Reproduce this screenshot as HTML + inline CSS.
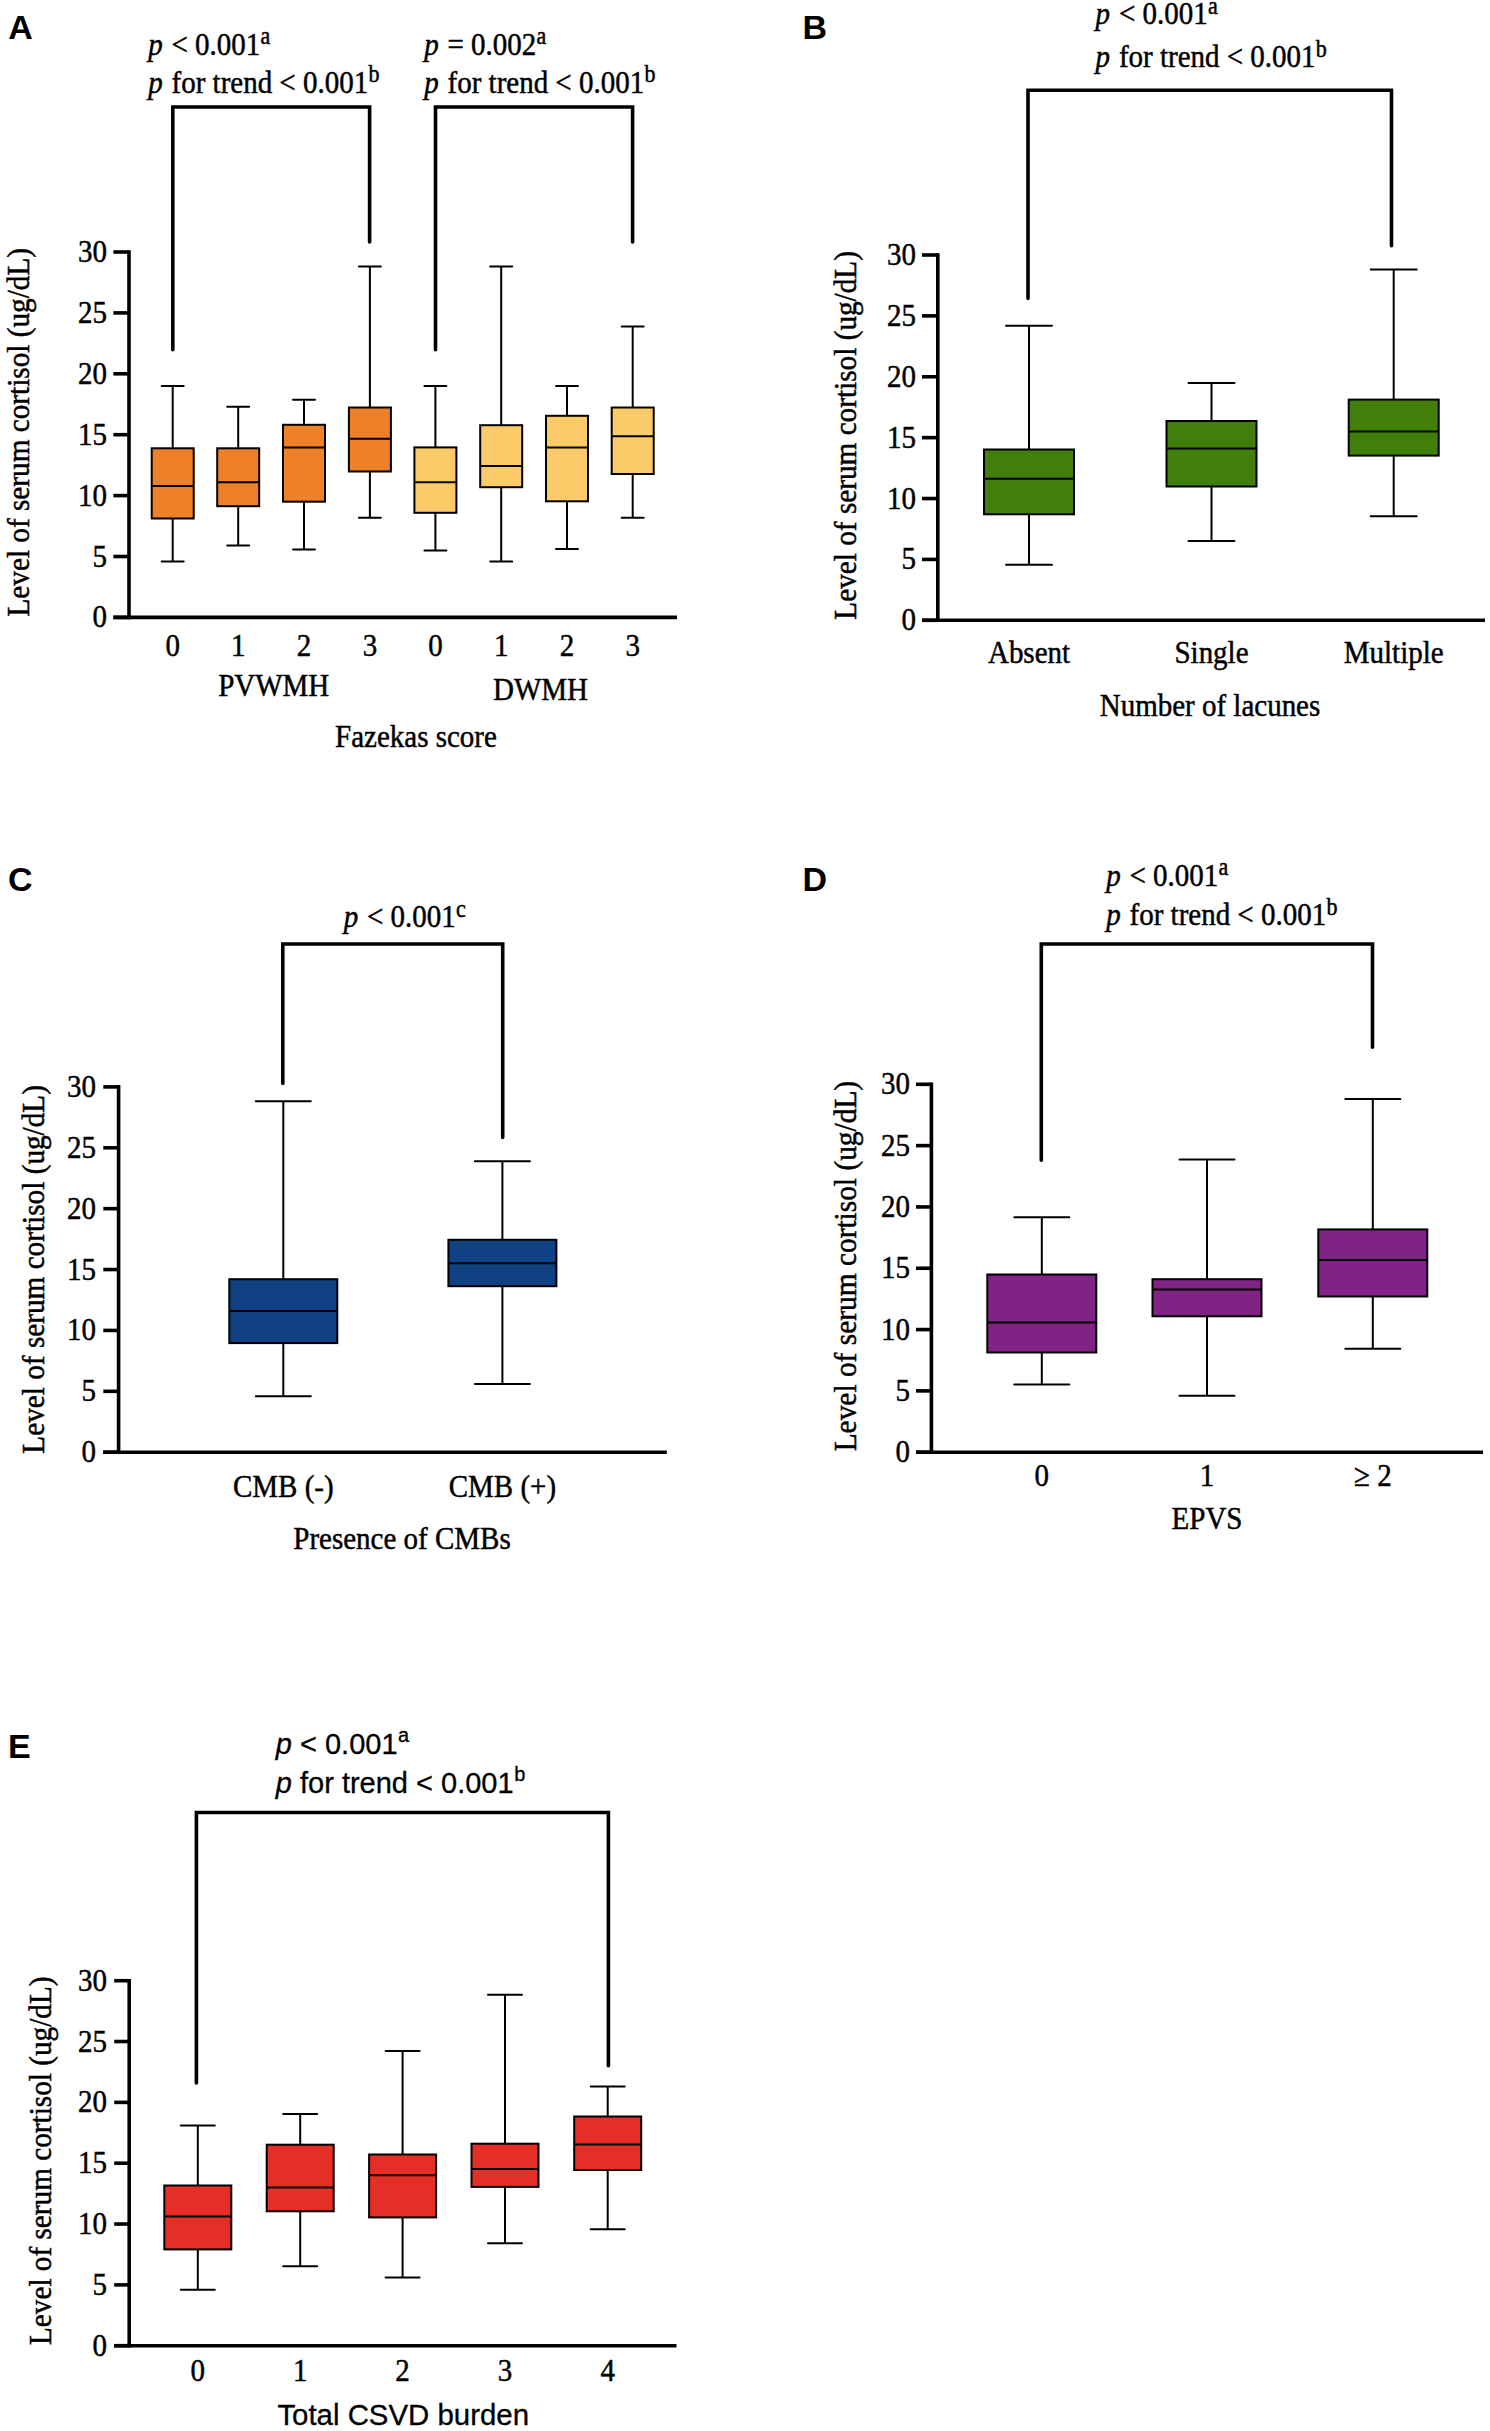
<!DOCTYPE html>
<html><head><meta charset="utf-8"><style>
html,body{margin:0;padding:0;background:#fff;width:1490px;height:2431px;overflow:hidden;}
svg{display:block;}
</style></head><body>
<svg width="1490" height="2431" viewBox="0 0 1490 2431">
<rect width="1490" height="2431" fill="#fff"/>
<line x1="113.4" y1="617.40" x2="129" y2="617.40" stroke="#000" stroke-width="3.6"/>
<text transform="translate(107,627.4) scale(1,1.1)" text-anchor="end" font-size="29" font-family='"Liberation Serif", serif' stroke="#000" stroke-width="0.45" >0</text>
<line x1="113.4" y1="556.50" x2="129" y2="556.50" stroke="#000" stroke-width="3.6"/>
<text transform="translate(107,566.5) scale(1,1.1)" text-anchor="end" font-size="29" font-family='"Liberation Serif", serif' stroke="#000" stroke-width="0.45" >5</text>
<line x1="113.4" y1="495.60" x2="129" y2="495.60" stroke="#000" stroke-width="3.6"/>
<text transform="translate(107,505.59999999999997) scale(1,1.1)" text-anchor="end" font-size="29" font-family='"Liberation Serif", serif' stroke="#000" stroke-width="0.45" >10</text>
<line x1="113.4" y1="434.70" x2="129" y2="434.70" stroke="#000" stroke-width="3.6"/>
<text transform="translate(107,444.7) scale(1,1.1)" text-anchor="end" font-size="29" font-family='"Liberation Serif", serif' stroke="#000" stroke-width="0.45" >15</text>
<line x1="113.4" y1="373.80" x2="129" y2="373.80" stroke="#000" stroke-width="3.6"/>
<text transform="translate(107,383.79999999999995) scale(1,1.1)" text-anchor="end" font-size="29" font-family='"Liberation Serif", serif' stroke="#000" stroke-width="0.45" >20</text>
<line x1="113.4" y1="312.90" x2="129" y2="312.90" stroke="#000" stroke-width="3.6"/>
<text transform="translate(107,322.9) scale(1,1.1)" text-anchor="end" font-size="29" font-family='"Liberation Serif", serif' stroke="#000" stroke-width="0.45" >25</text>
<line x1="113.4" y1="252.00" x2="129" y2="252.00" stroke="#000" stroke-width="3.6"/>
<text transform="translate(107,262.0) scale(1,1.1)" text-anchor="end" font-size="29" font-family='"Liberation Serif", serif' stroke="#000" stroke-width="0.45" >30</text>
<line x1="129" y1="250.20" x2="129" y2="619.20" stroke="#000" stroke-width="3.6"/>
<line x1="113.4" y1="617.40" x2="677" y2="617.40" stroke="#000" stroke-width="3.6"/>
<text transform="translate(28.5,432.25) rotate(-90) scale(1,1.1)" text-anchor="middle" font-size="29.25" font-family='"Liberation Serif", serif' stroke="#000" stroke-width="0.45">Level of serum cortisol (ug/dL)</text>
<line x1="172.7" y1="386" x2="172.7" y2="448.3" stroke="#000" stroke-width="2.0"/>
<line x1="172.7" y1="518.5" x2="172.7" y2="561.5" stroke="#000" stroke-width="2.0"/>
<line x1="161.7" y1="386" x2="183.7" y2="386" stroke="#000" stroke-width="2.0" stroke-linecap="round"/>
<line x1="161.7" y1="561.5" x2="183.7" y2="561.5" stroke="#000" stroke-width="2.0" stroke-linecap="round"/>
<rect x="151.7" y="448.3" width="42" height="70.19999999999999" fill="#EE8128" stroke="#000" stroke-width="2.0"/>
<line x1="151.7" y1="486" x2="193.7" y2="486" stroke="#000" stroke-width="2.0"/>
<line x1="238.2" y1="406.7" x2="238.2" y2="448.3" stroke="#000" stroke-width="2.0"/>
<line x1="238.2" y1="506.2" x2="238.2" y2="545.6" stroke="#000" stroke-width="2.0"/>
<line x1="227.2" y1="406.7" x2="249.2" y2="406.7" stroke="#000" stroke-width="2.0" stroke-linecap="round"/>
<line x1="227.2" y1="545.6" x2="249.2" y2="545.6" stroke="#000" stroke-width="2.0" stroke-linecap="round"/>
<rect x="217.2" y="448.3" width="42" height="57.89999999999998" fill="#EE8128" stroke="#000" stroke-width="2.0"/>
<line x1="217.2" y1="482.2" x2="259.2" y2="482.2" stroke="#000" stroke-width="2.0"/>
<line x1="304.0" y1="399.7" x2="304.0" y2="424.8" stroke="#000" stroke-width="2.0"/>
<line x1="304.0" y1="501.7" x2="304.0" y2="549.4" stroke="#000" stroke-width="2.0"/>
<line x1="293.0" y1="399.7" x2="315.0" y2="399.7" stroke="#000" stroke-width="2.0" stroke-linecap="round"/>
<line x1="293.0" y1="549.4" x2="315.0" y2="549.4" stroke="#000" stroke-width="2.0" stroke-linecap="round"/>
<rect x="283.0" y="424.8" width="42" height="76.89999999999998" fill="#EE8128" stroke="#000" stroke-width="2.0"/>
<line x1="283.0" y1="447.4" x2="325.0" y2="447.4" stroke="#000" stroke-width="2.0"/>
<line x1="369.9" y1="266.6" x2="369.9" y2="407.5" stroke="#000" stroke-width="2.0"/>
<line x1="369.9" y1="471.5" x2="369.9" y2="517.8" stroke="#000" stroke-width="2.0"/>
<line x1="358.9" y1="266.6" x2="380.9" y2="266.6" stroke="#000" stroke-width="2.0" stroke-linecap="round"/>
<line x1="358.9" y1="517.8" x2="380.9" y2="517.8" stroke="#000" stroke-width="2.0" stroke-linecap="round"/>
<rect x="348.9" y="407.5" width="42" height="64.0" fill="#EE8128" stroke="#000" stroke-width="2.0"/>
<line x1="348.9" y1="438.7" x2="390.9" y2="438.7" stroke="#000" stroke-width="2.0"/>
<path d="M172.8 349.7 L172.8 107 L369.6 107 L369.6 242" fill="none" stroke="#000" stroke-width="3.6" stroke-linecap="round" stroke-linejoin="miter"/>
<path d="M435.5 349.7 L435.5 107 L632.6 107 L632.6 242" fill="none" stroke="#000" stroke-width="3.6" stroke-linecap="round" stroke-linejoin="miter"/>
<text x="8.2" y="38.6" font-size="34" font-weight="bold" font-family='"Liberation Sans", sans-serif'>A</text>
<text transform="translate(148.2,54.6) scale(1,1.1)" font-size="29" font-family='"Liberation Serif", serif' stroke="#000" stroke-width="0.45"><tspan font-style="italic">p</tspan><tspan dx="1.5999999999999999"> &lt; 0.001</tspan><tspan font-size="22" dx="0.2" dy="-9.55">a</tspan></text>
<text transform="translate(148.2,92.9) scale(1,1.1)" font-size="29" font-family='"Liberation Serif", serif' stroke="#000" stroke-width="0.45"><tspan font-style="italic">p</tspan><tspan dx="1.5999999999999999"> for trend &lt; 0.001</tspan><tspan font-size="22" dx="0.2" dy="-9.55">b</tspan></text>
<text transform="translate(424.2,54.6) scale(1,1.1)" font-size="29" font-family='"Liberation Serif", serif' stroke="#000" stroke-width="0.45"><tspan font-style="italic">p</tspan><tspan dx="1.5999999999999999"> = 0.002</tspan><tspan font-size="22" dx="0.2" dy="-9.55">a</tspan></text>
<text transform="translate(424.2,92.9) scale(1,1.1)" font-size="29" font-family='"Liberation Serif", serif' stroke="#000" stroke-width="0.45"><tspan font-style="italic">p</tspan><tspan dx="1.5999999999999999"> for trend &lt; 0.001</tspan><tspan font-size="22" dx="0.2" dy="-9.55">b</tspan></text>
<text transform="translate(172.7,656) scale(1,1.1)" text-anchor="middle" font-size="29" font-family='"Liberation Serif", serif' stroke="#000" stroke-width="0.45">0</text>
<text transform="translate(238.2,656) scale(1,1.1)" text-anchor="middle" font-size="29" font-family='"Liberation Serif", serif' stroke="#000" stroke-width="0.45">1</text>
<text transform="translate(304,656) scale(1,1.1)" text-anchor="middle" font-size="29" font-family='"Liberation Serif", serif' stroke="#000" stroke-width="0.45">2</text>
<text transform="translate(369.9,656) scale(1,1.1)" text-anchor="middle" font-size="29" font-family='"Liberation Serif", serif' stroke="#000" stroke-width="0.45">3</text>
<text transform="translate(435.4,656) scale(1,1.1)" text-anchor="middle" font-size="29" font-family='"Liberation Serif", serif' stroke="#000" stroke-width="0.45">0</text>
<text transform="translate(501.2,656) scale(1,1.1)" text-anchor="middle" font-size="29" font-family='"Liberation Serif", serif' stroke="#000" stroke-width="0.45">1</text>
<text transform="translate(567,656) scale(1,1.1)" text-anchor="middle" font-size="29" font-family='"Liberation Serif", serif' stroke="#000" stroke-width="0.45">2</text>
<text transform="translate(632.7,656) scale(1,1.1)" text-anchor="middle" font-size="29" font-family='"Liberation Serif", serif' stroke="#000" stroke-width="0.45">3</text>
<text transform="translate(273.7,696) scale(1,1.1)" text-anchor="middle" font-size="29" font-family='"Liberation Serif", serif' stroke="#000" stroke-width="0.45">PVWMH</text>
<text transform="translate(540.5,699.5) scale(1,1.1)" text-anchor="middle" font-size="29" font-family='"Liberation Serif", serif' stroke="#000" stroke-width="0.45">DWMH</text>
<text transform="translate(416,747.4) scale(1,1.1)" text-anchor="middle" font-size="29" font-family='"Liberation Serif", serif' stroke="#000" stroke-width="0.45">Fazekas score</text>
<line x1="435.4" y1="386" x2="435.4" y2="447.4" stroke="#000" stroke-width="2.0"/>
<line x1="435.4" y1="512.8" x2="435.4" y2="550.4" stroke="#000" stroke-width="2.0"/>
<line x1="424.4" y1="386" x2="446.4" y2="386" stroke="#000" stroke-width="2.0" stroke-linecap="round"/>
<line x1="424.4" y1="550.4" x2="446.4" y2="550.4" stroke="#000" stroke-width="2.0" stroke-linecap="round"/>
<rect x="414.4" y="447.4" width="42" height="65.39999999999998" fill="#FACB68" stroke="#000" stroke-width="2.0"/>
<line x1="414.4" y1="482.2" x2="456.4" y2="482.2" stroke="#000" stroke-width="2.0"/>
<line x1="501.2" y1="266.6" x2="501.2" y2="425.2" stroke="#000" stroke-width="2.0"/>
<line x1="501.2" y1="487.2" x2="501.2" y2="561.5" stroke="#000" stroke-width="2.0"/>
<line x1="490.2" y1="266.6" x2="512.2" y2="266.6" stroke="#000" stroke-width="2.0" stroke-linecap="round"/>
<line x1="490.2" y1="561.5" x2="512.2" y2="561.5" stroke="#000" stroke-width="2.0" stroke-linecap="round"/>
<rect x="480.2" y="425.2" width="42" height="62.0" fill="#FACB68" stroke="#000" stroke-width="2.0"/>
<line x1="480.2" y1="466.1" x2="522.2" y2="466.1" stroke="#000" stroke-width="2.0"/>
<line x1="567.0" y1="386" x2="567.0" y2="415.8" stroke="#000" stroke-width="2.0"/>
<line x1="567.0" y1="501.3" x2="567.0" y2="549" stroke="#000" stroke-width="2.0"/>
<line x1="556.0" y1="386" x2="578.0" y2="386" stroke="#000" stroke-width="2.0" stroke-linecap="round"/>
<line x1="556.0" y1="549" x2="578.0" y2="549" stroke="#000" stroke-width="2.0" stroke-linecap="round"/>
<rect x="546.0" y="415.8" width="42" height="85.5" fill="#FACB68" stroke="#000" stroke-width="2.0"/>
<line x1="546.0" y1="447.4" x2="588.0" y2="447.4" stroke="#000" stroke-width="2.0"/>
<line x1="632.7" y1="326.6" x2="632.7" y2="407.5" stroke="#000" stroke-width="2.0"/>
<line x1="632.7" y1="474" x2="632.7" y2="517.8" stroke="#000" stroke-width="2.0"/>
<line x1="621.7" y1="326.6" x2="643.7" y2="326.6" stroke="#000" stroke-width="2.0" stroke-linecap="round"/>
<line x1="621.7" y1="517.8" x2="643.7" y2="517.8" stroke="#000" stroke-width="2.0" stroke-linecap="round"/>
<rect x="611.7" y="407.5" width="42" height="66.5" fill="#FACB68" stroke="#000" stroke-width="2.0"/>
<line x1="611.7" y1="436.3" x2="653.7" y2="436.3" stroke="#000" stroke-width="2.0"/>
<line x1="922" y1="620.30" x2="937.8" y2="620.30" stroke="#000" stroke-width="3.6"/>
<text transform="translate(916,630.3) scale(1,1.1)" text-anchor="end" font-size="29" font-family='"Liberation Serif", serif' stroke="#000" stroke-width="0.45" >0</text>
<line x1="922" y1="559.42" x2="937.8" y2="559.42" stroke="#000" stroke-width="3.6"/>
<text transform="translate(916,569.4166666666666) scale(1,1.1)" text-anchor="end" font-size="29" font-family='"Liberation Serif", serif' stroke="#000" stroke-width="0.45" >5</text>
<line x1="922" y1="498.53" x2="937.8" y2="498.53" stroke="#000" stroke-width="3.6"/>
<text transform="translate(916,508.5333333333333) scale(1,1.1)" text-anchor="end" font-size="29" font-family='"Liberation Serif", serif' stroke="#000" stroke-width="0.45" >10</text>
<line x1="922" y1="437.65" x2="937.8" y2="437.65" stroke="#000" stroke-width="3.6"/>
<text transform="translate(916,447.65) scale(1,1.1)" text-anchor="end" font-size="29" font-family='"Liberation Serif", serif' stroke="#000" stroke-width="0.45" >15</text>
<line x1="922" y1="376.77" x2="937.8" y2="376.77" stroke="#000" stroke-width="3.6"/>
<text transform="translate(916,386.76666666666665) scale(1,1.1)" text-anchor="end" font-size="29" font-family='"Liberation Serif", serif' stroke="#000" stroke-width="0.45" >20</text>
<line x1="922" y1="315.88" x2="937.8" y2="315.88" stroke="#000" stroke-width="3.6"/>
<text transform="translate(916,325.8833333333333) scale(1,1.1)" text-anchor="end" font-size="29" font-family='"Liberation Serif", serif' stroke="#000" stroke-width="0.45" >25</text>
<line x1="922" y1="255.00" x2="937.8" y2="255.00" stroke="#000" stroke-width="3.6"/>
<text transform="translate(916,265.0) scale(1,1.1)" text-anchor="end" font-size="29" font-family='"Liberation Serif", serif' stroke="#000" stroke-width="0.45" >30</text>
<line x1="937.8" y1="253.20" x2="937.8" y2="622.10" stroke="#000" stroke-width="3.6"/>
<line x1="922" y1="620.30" x2="1485" y2="620.30" stroke="#000" stroke-width="3.6"/>
<text transform="translate(855.8,435.35) rotate(-90) scale(1,1.1)" text-anchor="middle" font-size="29.25" font-family='"Liberation Serif", serif' stroke="#000" stroke-width="0.45">Level of serum cortisol (ug/dL)</text>
<line x1="1029" y1="325.8" x2="1029" y2="449.5" stroke="#000" stroke-width="2.0"/>
<line x1="1029" y1="514.3" x2="1029" y2="564.7" stroke="#000" stroke-width="2.0"/>
<line x1="1006.0" y1="325.8" x2="1052.0" y2="325.8" stroke="#000" stroke-width="2.0" stroke-linecap="round"/>
<line x1="1006.0" y1="564.7" x2="1052.0" y2="564.7" stroke="#000" stroke-width="2.0" stroke-linecap="round"/>
<rect x="984.0" y="449.5" width="90" height="64.79999999999995" fill="#417E0B" stroke="#000" stroke-width="2.0"/>
<line x1="984.0" y1="478.7" x2="1074.0" y2="478.7" stroke="#000" stroke-width="2.0"/>
<line x1="1211.5" y1="382.9" x2="1211.5" y2="421" stroke="#000" stroke-width="2.0"/>
<line x1="1211.5" y1="486.5" x2="1211.5" y2="540.9" stroke="#000" stroke-width="2.0"/>
<line x1="1188.5" y1="382.9" x2="1234.5" y2="382.9" stroke="#000" stroke-width="2.0" stroke-linecap="round"/>
<line x1="1188.5" y1="540.9" x2="1234.5" y2="540.9" stroke="#000" stroke-width="2.0" stroke-linecap="round"/>
<rect x="1166.5" y="421" width="90" height="65.5" fill="#417E0B" stroke="#000" stroke-width="2.0"/>
<line x1="1166.5" y1="448.6" x2="1256.5" y2="448.6" stroke="#000" stroke-width="2.0"/>
<line x1="1393.7" y1="269.6" x2="1393.7" y2="399.6" stroke="#000" stroke-width="2.0"/>
<line x1="1393.7" y1="455.6" x2="1393.7" y2="516.3" stroke="#000" stroke-width="2.0"/>
<line x1="1370.7" y1="269.6" x2="1416.7" y2="269.6" stroke="#000" stroke-width="2.0" stroke-linecap="round"/>
<line x1="1370.7" y1="516.3" x2="1416.7" y2="516.3" stroke="#000" stroke-width="2.0" stroke-linecap="round"/>
<rect x="1348.7" y="399.6" width="90" height="56.0" fill="#417E0B" stroke="#000" stroke-width="2.0"/>
<line x1="1348.7" y1="431.6" x2="1438.7" y2="431.6" stroke="#000" stroke-width="2.0"/>
<path d="M1028 298.5 L1028 90.3 L1391.5 90.3 L1391.5 245.8" fill="none" stroke="#000" stroke-width="3.6" stroke-linecap="round" stroke-linejoin="miter"/>
<text x="802.4" y="38.5" font-size="34" font-weight="bold" font-family='"Liberation Sans", sans-serif'>B</text>
<text transform="translate(1095.6000000000001,24.4) scale(1,1.1)" font-size="29" font-family='"Liberation Serif", serif' stroke="#000" stroke-width="0.45"><tspan font-style="italic">p</tspan><tspan dx="1.5999999999999999"> &lt; 0.001</tspan><tspan font-size="22" dx="0.2" dy="-9.55">a</tspan></text>
<text transform="translate(1095.6000000000001,67.2) scale(1,1.1)" font-size="29" font-family='"Liberation Serif", serif' stroke="#000" stroke-width="0.45"><tspan font-style="italic">p</tspan><tspan dx="1.5999999999999999"> for trend &lt; 0.001</tspan><tspan font-size="22" dx="0.2" dy="-9.55">b</tspan></text>
<text transform="translate(1029,663) scale(1,1.1)" text-anchor="middle" font-size="29" font-family='"Liberation Serif", serif' stroke="#000" stroke-width="0.45">Absent</text>
<text transform="translate(1211.5,663) scale(1,1.1)" text-anchor="middle" font-size="29" font-family='"Liberation Serif", serif' stroke="#000" stroke-width="0.45">Single</text>
<text transform="translate(1393.7,663) scale(1,1.1)" text-anchor="middle" font-size="29" font-family='"Liberation Serif", serif' stroke="#000" stroke-width="0.45">Multiple</text>
<text transform="translate(1210,716.2) scale(1,1.1)" text-anchor="middle" font-size="29" font-family='"Liberation Serif", serif' stroke="#000" stroke-width="0.45">Number of lacunes</text>
<line x1="103.3" y1="1452.20" x2="118.6" y2="1452.20" stroke="#000" stroke-width="3.6"/>
<text transform="translate(96,1462.2) scale(1,1.1)" text-anchor="end" font-size="29" font-family='"Liberation Serif", serif' stroke="#000" stroke-width="0.45" >0</text>
<line x1="103.3" y1="1391.32" x2="118.6" y2="1391.32" stroke="#000" stroke-width="3.6"/>
<text transform="translate(96,1401.3166666666666) scale(1,1.1)" text-anchor="end" font-size="29" font-family='"Liberation Serif", serif' stroke="#000" stroke-width="0.45" >5</text>
<line x1="103.3" y1="1330.43" x2="118.6" y2="1330.43" stroke="#000" stroke-width="3.6"/>
<text transform="translate(96,1340.4333333333334) scale(1,1.1)" text-anchor="end" font-size="29" font-family='"Liberation Serif", serif' stroke="#000" stroke-width="0.45" >10</text>
<line x1="103.3" y1="1269.55" x2="118.6" y2="1269.55" stroke="#000" stroke-width="3.6"/>
<text transform="translate(96,1279.5500000000002) scale(1,1.1)" text-anchor="end" font-size="29" font-family='"Liberation Serif", serif' stroke="#000" stroke-width="0.45" >15</text>
<line x1="103.3" y1="1208.67" x2="118.6" y2="1208.67" stroke="#000" stroke-width="3.6"/>
<text transform="translate(96,1218.6666666666667) scale(1,1.1)" text-anchor="end" font-size="29" font-family='"Liberation Serif", serif' stroke="#000" stroke-width="0.45" >20</text>
<line x1="103.3" y1="1147.78" x2="118.6" y2="1147.78" stroke="#000" stroke-width="3.6"/>
<text transform="translate(96,1157.7833333333333) scale(1,1.1)" text-anchor="end" font-size="29" font-family='"Liberation Serif", serif' stroke="#000" stroke-width="0.45" >25</text>
<line x1="103.3" y1="1086.90" x2="118.6" y2="1086.90" stroke="#000" stroke-width="3.6"/>
<text transform="translate(96,1096.9) scale(1,1.1)" text-anchor="end" font-size="29" font-family='"Liberation Serif", serif' stroke="#000" stroke-width="0.45" >30</text>
<line x1="118.6" y1="1085.10" x2="118.6" y2="1454.00" stroke="#000" stroke-width="3.6"/>
<line x1="103.3" y1="1452.20" x2="666.8" y2="1452.20" stroke="#000" stroke-width="3.6"/>
<text transform="translate(44.2,1269.35) rotate(-90) scale(1,1.1)" text-anchor="middle" font-size="29.25" font-family='"Liberation Serif", serif' stroke="#000" stroke-width="0.45">Level of serum cortisol (ug/dL)</text>
<line x1="283.3" y1="1101.3" x2="283.3" y2="1279.2" stroke="#000" stroke-width="2.0"/>
<line x1="283.3" y1="1343.1" x2="283.3" y2="1396.2" stroke="#000" stroke-width="2.0"/>
<line x1="255.8" y1="1101.3" x2="310.8" y2="1101.3" stroke="#000" stroke-width="2.0" stroke-linecap="round"/>
<line x1="255.8" y1="1396.2" x2="310.8" y2="1396.2" stroke="#000" stroke-width="2.0" stroke-linecap="round"/>
<rect x="229.3" y="1279.2" width="108" height="63.899999999999864" fill="#104182" stroke="#000" stroke-width="2.0"/>
<line x1="229.3" y1="1311.1" x2="337.3" y2="1311.1" stroke="#000" stroke-width="2.0"/>
<line x1="502.4" y1="1161.3" x2="502.4" y2="1239.8" stroke="#000" stroke-width="2.0"/>
<line x1="502.4" y1="1286.2" x2="502.4" y2="1384" stroke="#000" stroke-width="2.0"/>
<line x1="474.9" y1="1161.3" x2="529.9" y2="1161.3" stroke="#000" stroke-width="2.0" stroke-linecap="round"/>
<line x1="474.9" y1="1384" x2="529.9" y2="1384" stroke="#000" stroke-width="2.0" stroke-linecap="round"/>
<rect x="448.4" y="1239.8" width="108" height="46.40000000000009" fill="#104182" stroke="#000" stroke-width="2.0"/>
<line x1="448.4" y1="1263.2" x2="556.4" y2="1263.2" stroke="#000" stroke-width="2.0"/>
<path d="M282.8 1083.5 L282.8 944 L502.7 944 L502.7 1137.5" fill="none" stroke="#000" stroke-width="3.6" stroke-linecap="round" stroke-linejoin="miter"/>
<text x="7.9" y="890.7" font-size="34" font-weight="bold" font-family='"Liberation Sans", sans-serif'>C</text>
<text transform="translate(343.7,927.1) scale(1,1.1)" font-size="29" font-family='"Liberation Serif", serif' stroke="#000" stroke-width="0.45"><tspan font-style="italic">p</tspan><tspan dx="1.5999999999999999"> &lt; 0.001</tspan><tspan font-size="22" dx="0.2" dy="-9.55">c</tspan></text>
<text transform="translate(283.3,1496.7) scale(1,1.1)" text-anchor="middle" font-size="29" font-family='"Liberation Serif", serif' stroke="#000" stroke-width="0.45">CMB (-)</text>
<text transform="translate(502.4,1496.7) scale(1,1.1)" text-anchor="middle" font-size="29" font-family='"Liberation Serif", serif' stroke="#000" stroke-width="0.45">CMB (+)</text>
<text transform="translate(402,1549.3) scale(1,1.1)" text-anchor="middle" font-size="29" font-family='"Liberation Serif", serif' stroke="#000" stroke-width="0.45">Presence of CMBs</text>
<line x1="916" y1="1452.20" x2="931.4" y2="1452.20" stroke="#000" stroke-width="3.6"/>
<text transform="translate(910,1462.2) scale(1,1.1)" text-anchor="end" font-size="29" font-family='"Liberation Serif", serif' stroke="#000" stroke-width="0.45" >0</text>
<line x1="916" y1="1390.88" x2="931.4" y2="1390.88" stroke="#000" stroke-width="3.6"/>
<text transform="translate(910,1400.8833333333334) scale(1,1.1)" text-anchor="end" font-size="29" font-family='"Liberation Serif", serif' stroke="#000" stroke-width="0.45" >5</text>
<line x1="916" y1="1329.57" x2="931.4" y2="1329.57" stroke="#000" stroke-width="3.6"/>
<text transform="translate(910,1339.5666666666666) scale(1,1.1)" text-anchor="end" font-size="29" font-family='"Liberation Serif", serif' stroke="#000" stroke-width="0.45" >10</text>
<line x1="916" y1="1268.25" x2="931.4" y2="1268.25" stroke="#000" stroke-width="3.6"/>
<text transform="translate(910,1278.25) scale(1,1.1)" text-anchor="end" font-size="29" font-family='"Liberation Serif", serif' stroke="#000" stroke-width="0.45" >15</text>
<line x1="916" y1="1206.93" x2="931.4" y2="1206.93" stroke="#000" stroke-width="3.6"/>
<text transform="translate(910,1216.9333333333334) scale(1,1.1)" text-anchor="end" font-size="29" font-family='"Liberation Serif", serif' stroke="#000" stroke-width="0.45" >20</text>
<line x1="916" y1="1145.62" x2="931.4" y2="1145.62" stroke="#000" stroke-width="3.6"/>
<text transform="translate(910,1155.6166666666666) scale(1,1.1)" text-anchor="end" font-size="29" font-family='"Liberation Serif", serif' stroke="#000" stroke-width="0.45" >25</text>
<line x1="916" y1="1084.30" x2="931.4" y2="1084.30" stroke="#000" stroke-width="3.6"/>
<text transform="translate(910,1094.3) scale(1,1.1)" text-anchor="end" font-size="29" font-family='"Liberation Serif", serif' stroke="#000" stroke-width="0.45" >30</text>
<line x1="931.4" y1="1082.50" x2="931.4" y2="1454.00" stroke="#000" stroke-width="3.6"/>
<line x1="916" y1="1452.20" x2="1483" y2="1452.20" stroke="#000" stroke-width="3.6"/>
<text transform="translate(856.4,1266.1) rotate(-90) scale(1,1.1)" text-anchor="middle" font-size="29.4" font-family='"Liberation Serif", serif' stroke="#000" stroke-width="0.45">Level of serum cortisol (ug/dL)</text>
<line x1="1041.8" y1="1217.2" x2="1041.8" y2="1274.5" stroke="#000" stroke-width="2.0"/>
<line x1="1041.8" y1="1352.5" x2="1041.8" y2="1384.4" stroke="#000" stroke-width="2.0"/>
<line x1="1014.3" y1="1217.2" x2="1069.3" y2="1217.2" stroke="#000" stroke-width="2.0" stroke-linecap="round"/>
<line x1="1014.3" y1="1384.4" x2="1069.3" y2="1384.4" stroke="#000" stroke-width="2.0" stroke-linecap="round"/>
<rect x="987.3" y="1274.5" width="109" height="78.0" fill="#812384" stroke="#000" stroke-width="2.0"/>
<line x1="987.3" y1="1322.4" x2="1096.3" y2="1322.4" stroke="#000" stroke-width="2.0"/>
<line x1="1207" y1="1159.4" x2="1207" y2="1279.2" stroke="#000" stroke-width="2.0"/>
<line x1="1207" y1="1316.3" x2="1207" y2="1395.7" stroke="#000" stroke-width="2.0"/>
<line x1="1179.5" y1="1159.4" x2="1234.5" y2="1159.4" stroke="#000" stroke-width="2.0" stroke-linecap="round"/>
<line x1="1179.5" y1="1395.7" x2="1234.5" y2="1395.7" stroke="#000" stroke-width="2.0" stroke-linecap="round"/>
<rect x="1152.5" y="1279.2" width="109" height="37.09999999999991" fill="#812384" stroke="#000" stroke-width="2.0"/>
<line x1="1152.5" y1="1289.6" x2="1261.5" y2="1289.6" stroke="#000" stroke-width="2.0"/>
<line x1="1372.8" y1="1099" x2="1372.8" y2="1229.4" stroke="#000" stroke-width="2.0"/>
<line x1="1372.8" y1="1296.5" x2="1372.8" y2="1348.7" stroke="#000" stroke-width="2.0"/>
<line x1="1345.3" y1="1099" x2="1400.3" y2="1099" stroke="#000" stroke-width="2.0" stroke-linecap="round"/>
<line x1="1345.3" y1="1348.7" x2="1400.3" y2="1348.7" stroke="#000" stroke-width="2.0" stroke-linecap="round"/>
<rect x="1318.3" y="1229.4" width="109" height="67.09999999999991" fill="#812384" stroke="#000" stroke-width="2.0"/>
<line x1="1318.3" y1="1260" x2="1427.3" y2="1260" stroke="#000" stroke-width="2.0"/>
<path d="M1041.3 1160.3 L1041.3 944 L1372.5 944 L1372.5 1047.3" fill="none" stroke="#000" stroke-width="3.6" stroke-linecap="round" stroke-linejoin="miter"/>
<text x="802.4" y="891" font-size="34" font-weight="bold" font-family='"Liberation Sans", sans-serif'>D</text>
<text transform="translate(1106.2,885.8) scale(1,1.1)" font-size="29" font-family='"Liberation Serif", serif' stroke="#000" stroke-width="0.45"><tspan font-style="italic">p</tspan><tspan dx="1.5999999999999999"> &lt; 0.001</tspan><tspan font-size="22" dx="0.2" dy="-9.55">a</tspan></text>
<text transform="translate(1106.2,925.4) scale(1,1.1)" font-size="29" font-family='"Liberation Serif", serif' stroke="#000" stroke-width="0.45"><tspan font-style="italic">p</tspan><tspan dx="1.5999999999999999"> for trend &lt; 0.001</tspan><tspan font-size="22" dx="0.2" dy="-9.55">b</tspan></text>
<text transform="translate(1041.8,1486) scale(1,1.1)" text-anchor="middle" font-size="29" font-family='"Liberation Serif", serif' stroke="#000" stroke-width="0.45">0</text>
<text transform="translate(1207,1486) scale(1,1.1)" text-anchor="middle" font-size="29" font-family='"Liberation Serif", serif' stroke="#000" stroke-width="0.45">1</text>
<text transform="translate(1372.8,1486) scale(1,1.1)" text-anchor="middle" font-size="29" font-family='"Liberation Serif", serif' stroke="#000" stroke-width="0.45">≥ 2</text>
<text transform="translate(1207,1529.3) scale(1,1.1)" text-anchor="middle" font-size="29" font-family='"Liberation Serif", serif' stroke="#000" stroke-width="0.45">EPVS</text>
<line x1="114.2" y1="2345.70" x2="129.2" y2="2345.70" stroke="#000" stroke-width="3.6"/>
<text transform="translate(107,2355.7) scale(1,1.1)" text-anchor="end" font-size="29" font-family='"Liberation Serif", serif' stroke="#000" stroke-width="0.45" >0</text>
<line x1="114.2" y1="2284.87" x2="129.2" y2="2284.87" stroke="#000" stroke-width="3.6"/>
<text transform="translate(107,2294.8666666666663) scale(1,1.1)" text-anchor="end" font-size="29" font-family='"Liberation Serif", serif' stroke="#000" stroke-width="0.45" >5</text>
<line x1="114.2" y1="2224.03" x2="129.2" y2="2224.03" stroke="#000" stroke-width="3.6"/>
<text transform="translate(107,2234.0333333333333) scale(1,1.1)" text-anchor="end" font-size="29" font-family='"Liberation Serif", serif' stroke="#000" stroke-width="0.45" >10</text>
<line x1="114.2" y1="2163.20" x2="129.2" y2="2163.20" stroke="#000" stroke-width="3.6"/>
<text transform="translate(107,2173.2) scale(1,1.1)" text-anchor="end" font-size="29" font-family='"Liberation Serif", serif' stroke="#000" stroke-width="0.45" >15</text>
<line x1="114.2" y1="2102.37" x2="129.2" y2="2102.37" stroke="#000" stroke-width="3.6"/>
<text transform="translate(107,2112.366666666667) scale(1,1.1)" text-anchor="end" font-size="29" font-family='"Liberation Serif", serif' stroke="#000" stroke-width="0.45" >20</text>
<line x1="114.2" y1="2041.53" x2="129.2" y2="2041.53" stroke="#000" stroke-width="3.6"/>
<text transform="translate(107,2051.5333333333333) scale(1,1.1)" text-anchor="end" font-size="29" font-family='"Liberation Serif", serif' stroke="#000" stroke-width="0.45" >25</text>
<line x1="114.2" y1="1980.70" x2="129.2" y2="1980.70" stroke="#000" stroke-width="3.6"/>
<text transform="translate(107,1990.7) scale(1,1.1)" text-anchor="end" font-size="29" font-family='"Liberation Serif", serif' stroke="#000" stroke-width="0.45" >30</text>
<line x1="129.2" y1="1978.90" x2="129.2" y2="2347.50" stroke="#000" stroke-width="3.6"/>
<line x1="114.2" y1="2345.70" x2="676.5" y2="2345.70" stroke="#000" stroke-width="3.6"/>
<text transform="translate(51.4,2160.75) rotate(-90) scale(1,1.1)" text-anchor="middle" font-size="29.25" font-family='"Liberation Serif", serif' stroke="#000" stroke-width="0.45">Level of serum cortisol (ug/dL)</text>
<line x1="197.8" y1="2125.4" x2="197.8" y2="2185.5" stroke="#000" stroke-width="2.0"/>
<line x1="197.8" y1="2249.4" x2="197.8" y2="2289.8" stroke="#000" stroke-width="2.0"/>
<line x1="180.8" y1="2125.4" x2="214.8" y2="2125.4" stroke="#000" stroke-width="2.0" stroke-linecap="round"/>
<line x1="180.8" y1="2289.8" x2="214.8" y2="2289.8" stroke="#000" stroke-width="2.0" stroke-linecap="round"/>
<rect x="164.3" y="2185.5" width="67" height="63.90000000000009" fill="#E52E26" stroke="#000" stroke-width="2.0"/>
<line x1="164.3" y1="2216.5" x2="231.3" y2="2216.5" stroke="#000" stroke-width="2.0"/>
<line x1="300.2" y1="2114.1" x2="300.2" y2="2144.7" stroke="#000" stroke-width="2.0"/>
<line x1="300.2" y1="2211.3" x2="300.2" y2="2266.3" stroke="#000" stroke-width="2.0"/>
<line x1="283.2" y1="2114.1" x2="317.2" y2="2114.1" stroke="#000" stroke-width="2.0" stroke-linecap="round"/>
<line x1="283.2" y1="2266.3" x2="317.2" y2="2266.3" stroke="#000" stroke-width="2.0" stroke-linecap="round"/>
<rect x="266.7" y="2144.7" width="67" height="66.60000000000036" fill="#E52E26" stroke="#000" stroke-width="2.0"/>
<line x1="266.7" y1="2187.4" x2="333.7" y2="2187.4" stroke="#000" stroke-width="2.0"/>
<line x1="402.6" y1="2051.1" x2="402.6" y2="2154.5" stroke="#000" stroke-width="2.0"/>
<line x1="402.6" y1="2217.4" x2="402.6" y2="2277.6" stroke="#000" stroke-width="2.0"/>
<line x1="385.6" y1="2051.1" x2="419.6" y2="2051.1" stroke="#000" stroke-width="2.0" stroke-linecap="round"/>
<line x1="385.6" y1="2277.6" x2="419.6" y2="2277.6" stroke="#000" stroke-width="2.0" stroke-linecap="round"/>
<rect x="369.1" y="2154.5" width="67" height="62.90000000000009" fill="#E52E26" stroke="#000" stroke-width="2.0"/>
<line x1="369.1" y1="2175.2" x2="436.1" y2="2175.2" stroke="#000" stroke-width="2.0"/>
<line x1="505.0" y1="1994.8" x2="505.0" y2="2143.7" stroke="#000" stroke-width="2.0"/>
<line x1="505.0" y1="2186.9" x2="505.0" y2="2243.3" stroke="#000" stroke-width="2.0"/>
<line x1="488.0" y1="1994.8" x2="522.0" y2="1994.8" stroke="#000" stroke-width="2.0" stroke-linecap="round"/>
<line x1="488.0" y1="2243.3" x2="522.0" y2="2243.3" stroke="#000" stroke-width="2.0" stroke-linecap="round"/>
<rect x="471.5" y="2143.7" width="67" height="43.20000000000027" fill="#E52E26" stroke="#000" stroke-width="2.0"/>
<line x1="471.5" y1="2169" x2="538.5" y2="2169" stroke="#000" stroke-width="2.0"/>
<line x1="607.7" y1="2086.4" x2="607.7" y2="2116.5" stroke="#000" stroke-width="2.0"/>
<line x1="607.7" y1="2170" x2="607.7" y2="2229.2" stroke="#000" stroke-width="2.0"/>
<line x1="590.7" y1="2086.4" x2="624.7" y2="2086.4" stroke="#000" stroke-width="2.0" stroke-linecap="round"/>
<line x1="590.7" y1="2229.2" x2="624.7" y2="2229.2" stroke="#000" stroke-width="2.0" stroke-linecap="round"/>
<rect x="574.2" y="2116.5" width="67" height="53.5" fill="#E52E26" stroke="#000" stroke-width="2.0"/>
<line x1="574.2" y1="2144.6" x2="641.2" y2="2144.6" stroke="#000" stroke-width="2.0"/>
<path d="M196.4 2083 L196.4 1812.5 L608.4 1812.5 L608.4 2065.7" fill="none" stroke="#000" stroke-width="3.6" stroke-linecap="round" stroke-linejoin="miter"/>
<text x="8" y="1757.6" font-size="34" font-weight="bold" font-family='"Liberation Sans", sans-serif'>E</text>
<text transform="translate(275.8,1753.5) scale(1,1.0)" font-size="29" font-family='"Liberation Sans", sans-serif' stroke="#000" stroke-width="0.3"><tspan font-style="italic">p</tspan><tspan dx="0"> &lt; 0.001</tspan><tspan font-size="20" dx="0.5" dy="-12.00">a</tspan></text>
<text transform="translate(275.8,1792.8) scale(1,1.0)" font-size="29" font-family='"Liberation Sans", sans-serif' stroke="#000" stroke-width="0.3"><tspan font-style="italic">p</tspan><tspan dx="0"> for trend &lt; 0.001</tspan><tspan font-size="20" dx="0.5" dy="-12.00">b</tspan></text>
<text transform="translate(197.8,2380.5) scale(1,1.1)" text-anchor="middle" font-size="29" font-family='"Liberation Serif", serif' stroke="#000" stroke-width="0.45">0</text>
<text transform="translate(300.2,2380.5) scale(1,1.1)" text-anchor="middle" font-size="29" font-family='"Liberation Serif", serif' stroke="#000" stroke-width="0.45">1</text>
<text transform="translate(402.6,2380.5) scale(1,1.1)" text-anchor="middle" font-size="29" font-family='"Liberation Serif", serif' stroke="#000" stroke-width="0.45">2</text>
<text transform="translate(505,2380.5) scale(1,1.1)" text-anchor="middle" font-size="29" font-family='"Liberation Serif", serif' stroke="#000" stroke-width="0.45">3</text>
<text transform="translate(607.7,2380.5) scale(1,1.1)" text-anchor="middle" font-size="29" font-family='"Liberation Serif", serif' stroke="#000" stroke-width="0.45">4</text>
<text transform="translate(403.2,2425.2) scale(1,1.0)" text-anchor="middle" font-size="29.4" font-family='"Liberation Sans", sans-serif' stroke="#000" stroke-width="0.3">Total CSVD burden</text>
</svg>
</body></html>
